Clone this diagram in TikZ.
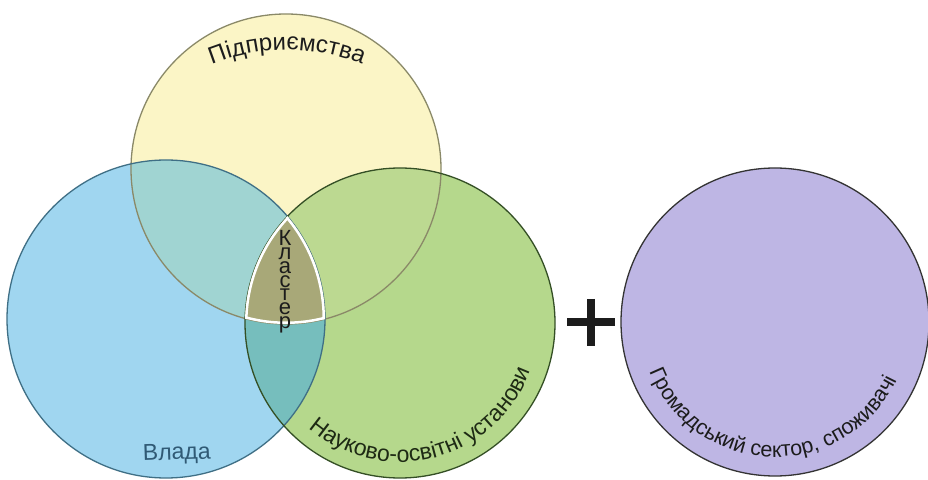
\documentclass[tikz,border=0pt]{standalone}
\usepackage{fontspec}
\setmainfont{Liberation Sans}
\usetikzlibrary{decorations.text}
\definecolor{cYel}{HTML}{FBF5C6}
\definecolor{cBlue}{HTML}{A0D6F0}
\definecolor{cGreen}{HTML}{B5D88C}
\definecolor{cBY}{HTML}{A0D4D2}
\definecolor{cGY}{HTML}{BCD991}
\definecolor{cBG}{HTML}{76BEBD}
\definecolor{cClus}{HTML}{A8A878}
\definecolor{cPurple}{HTML}{BEB6E4}
\definecolor{oYel}{HTML}{8A8968}
\definecolor{oBlue}{HTML}{3F6F85}
\definecolor{oGreen}{HTML}{344F25}
\definecolor{oPurple}{HTML}{333333}
\definecolor{tVlada}{HTML}{305A75}
\definecolor{tDark}{HTML}{1C1C1C}
\definecolor{tGreen}{HTML}{1E2A14}
\tikzset{
  outline/.style={line width=1.3pt},
  clusletter/.style={anchor=base, inner sep=0pt, font=\fontsize{22}{22}\selectfont, text=tDark},
  pluspart/.style={line width=8pt, draw=tDark}
}
\begin{document}
\begin{tikzpicture}[x=1pt,y=1pt]
\useasboundingbox[fill=white] (0,0) rectangle (928,479);
% base fills
\fill[cYel] (286,310) circle[radius=155];
\fill[cBlue] (166,160) circle[radius=159];
\fill[cGreen] (400,156) circle[radius=155];
\begin{scope}
  \clip (286,310) circle[radius=155];
  \fill[cBY] (166,160) circle[radius=159];
  \fill[cGY] (400,156) circle[radius=155];
\end{scope}
\begin{scope}
  \clip (166,160) circle[radius=159];
  \fill[cBG] (400,156) circle[radius=155];
\end{scope}
% outlines
\draw[outline, draw=oYel] (286,310) circle[radius=155];
\draw[outline, draw=oBlue] (166,160) circle[radius=159];
\draw[outline, draw=oGreen] (400,156) circle[radius=155];
% cluster
\begin{scope}
  \clip (286,310) circle[radius=155];
  \clip (166,160) circle[radius=159];
  \clip (400,156) circle[radius=155];
  \fill[cClus] (0,0) rectangle (928,479);
  \draw[white, line width=5pt] (286,310) circle[radius=155];
  \draw[white, line width=5pt] (166,160) circle[radius=159];
  \draw[white, line width=5pt] (400,156) circle[radius=155];
\end{scope}
% purple circle
\fill[cPurple] (775,157) circle[radius=154];
\draw[outline, draw=oPurple] (775,157) circle[radius=154];
% plus sign
\coordinate (plW) at (567,157);
\coordinate (plE) at (615,157);
\coordinate (plN) at (591,180);
\coordinate (plS) at (591,133);
\draw[pluspart] (plW) -- (plE);
\draw[pluspart] (plN) -- (plS);
% labels
\path[decorate, decoration={text along path, text align=center,
  text={|\fontsize{24}{24}\selectfont\color{tDark}|Підприємства}}]
  (287,229) ++(130:200) arc[start angle=130, end angle=50, radius=200];
\path[decorate, decoration={text along path, text align=center,
  text={|\fontsize{23}{23}\selectfont\color{tGreen}|Науково-освітні установи}}]
  (400,156) ++(-156:139) arc[start angle=-156, end angle=5, radius=139];
\path[decorate, decoration={text along path, text align=center,
  text={|\fontsize{21.5}{21.5}\selectfont\color{tDark}|Громадський сектор, споживачі}}]
  (775,157) ++(-172:135) arc[start angle=-172, end angle=-12, radius=135];
\node[anchor=base west, inner sep=0pt, rotate=2, text=tVlada,
  font=\fontsize{23}{23}\selectfont] (vlada) at (143,18) {Влада};
\foreach \ch [count=\i] in {К,л,а,с,т,е,р} {
  \node[clusletter] (kl\i) at (285,{233-13.7*(\i-1)}) {\ch};
}
\end{tikzpicture}
\end{document}
